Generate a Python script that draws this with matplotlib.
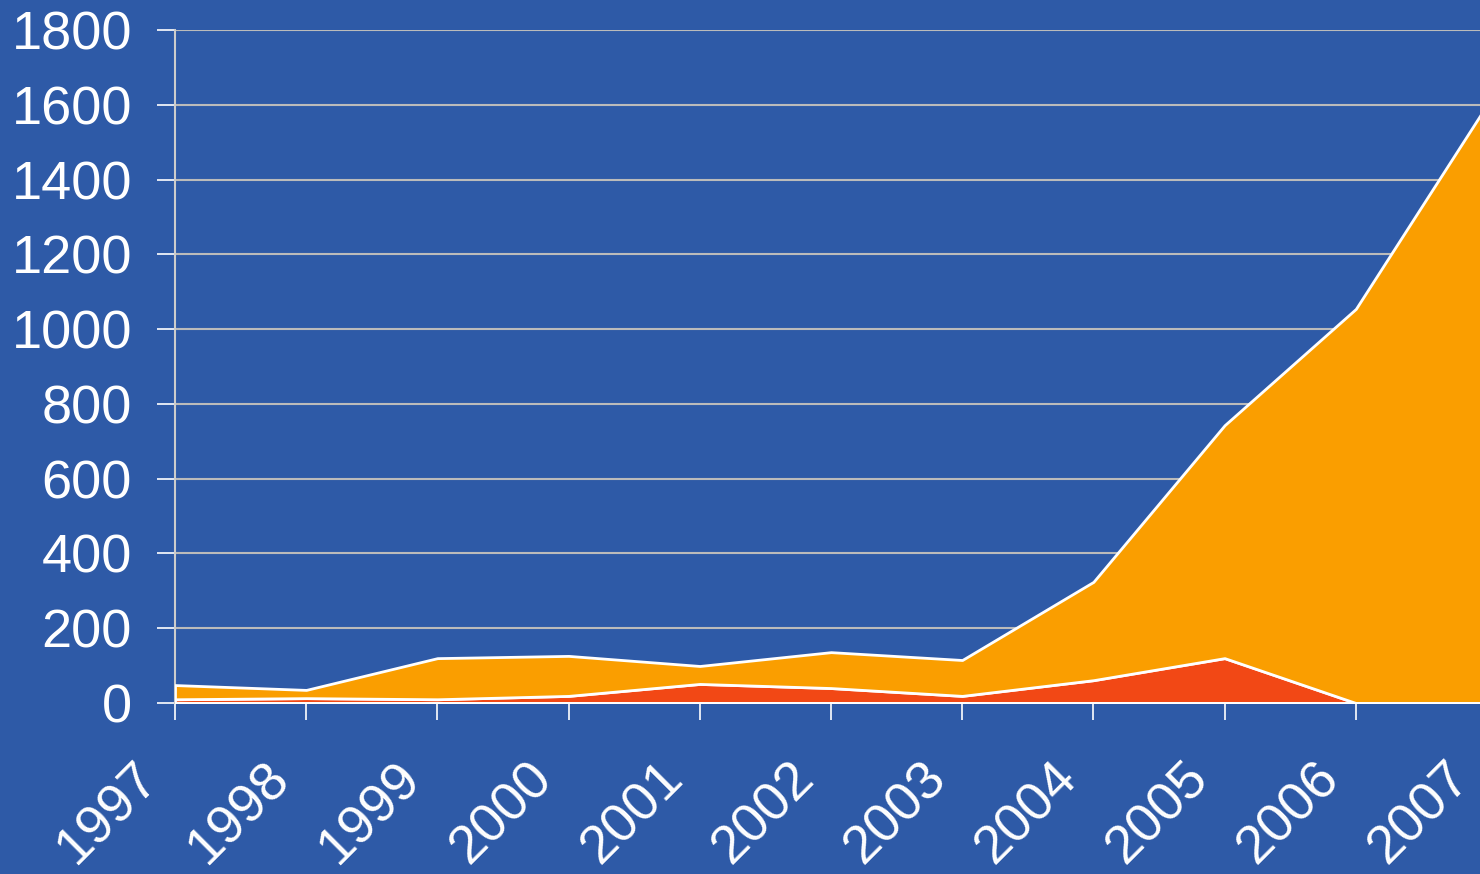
import numpy as np
import matplotlib.pyplot as plt
import matplotlib.transforms as mtransforms

# values (stacked areas)
years = [1997, 1998, 1999, 2000, 2001, 2002, 2003, 2004, 2005, 2006, 2007]
red_vals = [10, 13, 10, 19, 51, 40, 19, 61, 120, 0, 0]
total_vals = [48, 35, 120, 126, 99, 136, 115, 324, 743, 1054, 1600]
orange_vals = [t - r for t, r in zip(total_vals, red_vals)]
yticks = [0, 200, 400, 600, 800, 1000, 1200, 1400, 1600, 1800]

bg = "#2E5AA7"
plt.rcParams["font.family"] = ["Liberation Sans", "DejaVu Sans"]

fig = plt.figure(figsize=(14.8, 8.74), dpi=100, facecolor=bg)
# plot area runs slightly past the right edge of the picture
ax = fig.add_axes([175 / 1480, 1 - 703 / 874, (1487 - 175) / 1480, (703 - 30) / 874])
ax.set_facecolor(bg)

ax.stackplot(years, red_vals, orange_vals, colors=["#F24815", "#FA9E00"],
             edgecolor="white", linewidth=2, zorder=3)

ax.set_xlim(1997, 2007)
ax.set_ylim(0, 1800)
ax.set_yticks(yticks)
ax.set_xticks(years)
ax.grid(axis="y", color="#BBBBBB", linewidth=1.5, zorder=1)
ax.axhline(0, color="white", linewidth=2, zorder=4)

for s in ["top", "right", "bottom"]:
    ax.spines[s].set_visible(False)
ax.spines["left"].set_color("#CCCCCC")
ax.spines["left"].set_linewidth(1.5)

ax.tick_params(axis="y", colors="white", labelsize=39, length=13, width=1.2, pad=18)
ax.tick_params(axis="x", colors="white", labelsize=39, length=12, width=1.2, pad=8)
ax.set_xticklabels([str(y) for y in years], rotation=45, ha="right",
                   va="top", rotation_mode="anchor")
shift = mtransforms.ScaledTranslation(-42 / 100, -22 / 100, fig.dpi_scale_trans)
for lbl in ax.get_xticklabels():
    lbl.set_transform(lbl.get_transform() + shift)

fig.savefig("out.png", dpi=100, facecolor=bg)
